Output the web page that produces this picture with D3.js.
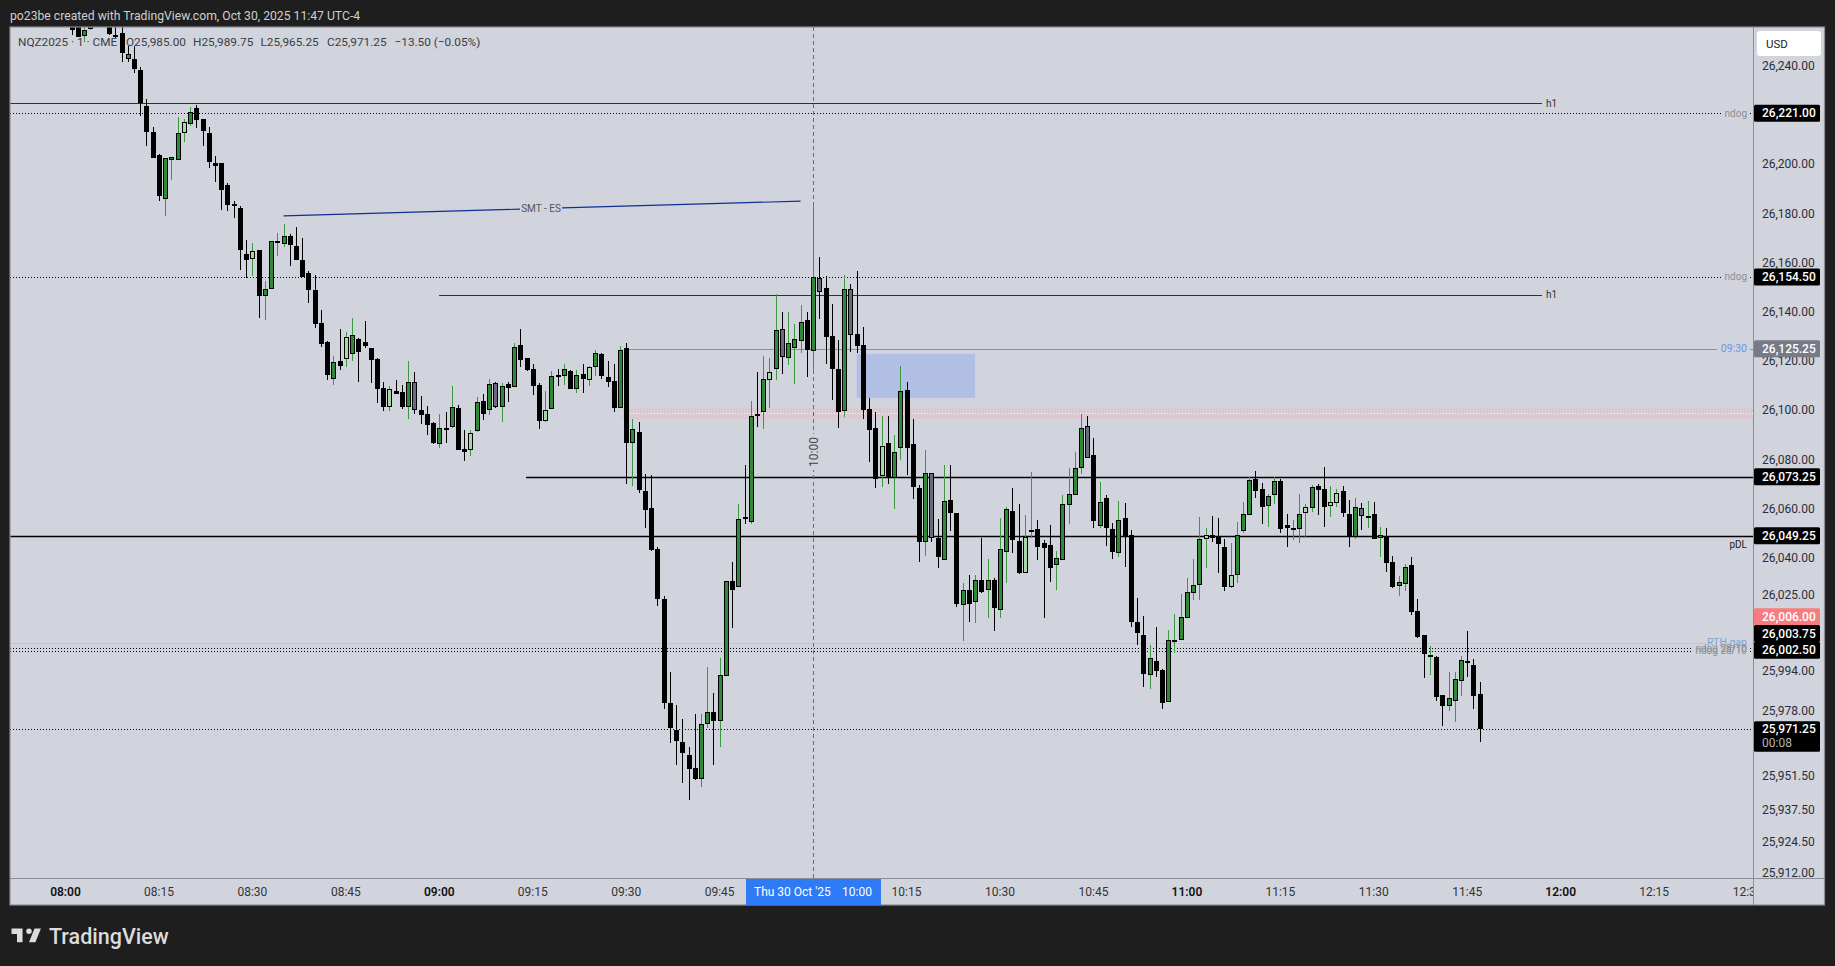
<!DOCTYPE html>
<html><head><meta charset="utf-8">
<style>html,body{margin:0;padding:0;background:#1e1e1e;overflow:hidden}svg{display:block}text{font-family:Roboto,sans-serif}</style>
<script src="https://cdn.jsdelivr.net/npm/d3@7"></script></head><body>
<svg id="c" width="1835" height="966"></svg>
<script>
// minute offset from 08:00 of the first candle
const firstMinute = 1;
const kinds = ("dduudddddg"+"ddddduuulu"+"dddddddddl"+"duuuuddddd"+"ddudludddd"+"dlddugdddu"+"duddludugu"+"duddddludu"+"dudludddud"+"uddddddddd"+
"duuduududu"+"duluguuudu"+"gdddugdddd"+"lduuddd"+"ugd"+"uddudududu"+"uddluddduu"+"uuugduddud"+"dddudduuuu"+"uuldddluuu"+"dduudduulu"+
"ddllddugud"+"udduuddd"+"ud"+"duuuddd").split("");
const bodyTops = [
26261,26259,26254.9,26258,26266,26264,26259,26252.75,26253.5,26245,
26243,26238.6,26223.8,26213.4,26204,26202.7,26203.1,26212.9,26217.3,26221.4,
26223.2,26218.7,26213,26200.7,26200.8,26191.9,26184.1,26182.5,26163.8,26164.9,
26165.4,26149.5,26169,26169.2,26171,26171.1,26167.1,26161.4,26156,26149.2,
26135.6,26128,26119.8,26120.3,26129.9,26130.8,26129.1,26127.9,26125.5,26121,
26109.2,26108.8,26108,26107.6,26111.7,26111.7,26100.3,26098.6,26095.1,26092.9,
26093,26101.5,26101.2,26084.4,26090.9,26103.5,26103.9,26110.9,26111.2,26110,
26110.9,26125.9,26126.7,26121.5,26116.9,26110.4,26100.3,26114.1,26114.6,26116.9,
26116.1,26114.5,26114.9,26117.7,26123.4,26123,26113.7,26112,26124.7,26125.4,
26092.5,26091.4,26067.5,26060.6,26043.9,26023.6,25981.2,25970.3,25965.4,25960.2,
25954.9,25972.7,25977.6,25977.6,25992.6,26030.8,26030.8,26056,26056.9,26097.8,
26098.8,26112.8,26115.7,26132.8,26133.2,26127.5,26129.2,26136.1,26136.9,26154.3,
26153.9,26149.9,26130.5,26116.9,26149.5,26149.5,26131.2,26126.7,26100.7,26092.95,
26085.6,26086.8,26083.2,26108,26108.4,26086.5,26068.7,26074.7,26074.7,26048.2,
26063.3,26063.7,26058.4,26027.1,26027.1,26031.2,26031.2,26031.2,26031.2,26043.8,
26060,26059.3,26047,26048.7,26051.6,26051.9,26046.2,26045.4,26040.1,26062.1,
26066.1,26076.7,26092.95,26093.8,26082.1,26062.9,26064.6,26051.9,26055.6,26056.5,
26049.5,26014.2,26008.8,25999.5,25998.2,25994.7,26006.8,26007.1,26016.1,26026.3,
26029.1,26047.8,26049.5,26049.5,26048.9,26044.7,26033.2,26049.5,26058,26071.9,
26072.2,26068.3,26065.3,26071.5,26071.5,26053.6,26052.4,26058,26060.8,26069,
26069.4,26068.2,26062.9,26066.5,26067.3,26058.1,26060.8,26060.4,26057.3,26058,
26049.5,26048.9,26038.6,26030.4,26036.5,26037.4,26018.7,26008.9,26000.8,26000,
25984.5,25983.2,25990.9,25998.7,25998.4,25996.7,25985];
const bodyBottoms = [
26254.9,26252.1,26252.5,26255.2,26260,26258,26253.25,26252.25,26245.6,26243,
26239.1,26225,26213.5,26203,26187.5,26186.3,26202.1,26201.9,26213.1,26216.8,
26218.4,26213.9,26201.3,26199.7,26189.9,26183.8,26183.4,26165.6,26161.5,26161.9,
26146.9,26146.9,26149.5,26168.8,26168,26167.6,26161.5,26154.6,26149.3,26135.5,
26127.4,26114.7,26113.1,26118.4,26121,26123.3,26124.1,26126.5,26120.8,26109,
26101.7,26101.7,26107,26101.7,26101.7,26100.5,26098.5,26094.4,26087.1,26086.7,
26092.75,26093.6,26084.3,26083.3,26084.3,26092,26098.9,26100.5,26101.7,26101.7,
26109.5,26109.9,26120.8,26116.8,26110.3,26096,26096,26100.7,26114.3,26114.1,
26109,26109,26113.1,26112.7,26118,26114.3,26111.9,26101.3,26101.3,26087.1,
26086.8,26068,26059.9,26043.5,26023.6,25981.1,25971.3,25965.8,25961,25954.4,
25950.4,25950.2,25972.95,25974.1,25974.1,25992.4,26027.4,26028.5,26056.6,26055,
26098.4,26099.4,26112.4,26116.9,26122,26121.6,26125.4,26128.6,26124.8,26124.5,
26148.5,26130.2,26117.2,26099.7,26100.1,26130.8,26126.5,26100.5,26092.4,26072.5,
26073.7,26072.9,26072.6,26084.8,26085.1,26069.2,26046.9,26046.9,26048.2,26040.8,
26039.5,26058.7,26021.7,26021.2,26021.7,26022.5,26026.5,26027.3,26020,26019.2,
26042.8,26047.7,26034.3,26034.3,26050.9,26044.8,26044.4,26036.3,26037.5,26039.5,
26061.9,26066,26076.9,26081,26055.3,26053.4,26052.5,26042.7,26042.4,26048.9,
26014.2,26009.75,25993.1,25992.8,25994.3,25981.3,25981.7,26006.7,26007,26016,
26026.1,26029.4,26048.1,26048.5,26045.9,26028.4,26028.4,26033.5,26051.3,26057.8,
26067.5,26061,26061.5,26066,26052,26052.5,26051.6,26052,26058.7,26060.7,
26067.9,26061.1,26061.5,26062.7,26058.7,26048.9,26048.9,26057.4,26057,26048.1,
26048.2,26038.3,26028.4,26029,26029.8,26018.3,26008.1,26001.2,26000.5,25983.7,
25980,25980.2,25982.2,25990.3,25997.7,25984.1,25970.75];
const highs = [
26265,26262,26262,26262,26268,26266,26262,26262,26258,26248.4,
26248.4,26239.8,26226.7,26215.3,26204.5,26202.7,26203.1,26219.4,26218.7,26223.4,
26224.4,26218.7,26215.3,26203.6,26200.8,26192.7,26185.2,26183.3,26169.5,26168.3,
26165.4,26152.8,26169,26172.2,26176,26171.9,26174.8,26170.3,26156.9,26155.2,
26141,26128.4,26122.3,26133.3,26132,26137.8,26129.7,26136.6,26125.5,26121.5,
26111.8,26110.2,26112.6,26110.6,26120.3,26115.8,26106.1,26102,26095.5,26098.8,
26099.6,26110.2,26102.4,26092.3,26092.3,26105.6,26106.9,26112.9,26111.8,26111.2,
26111.7,26127.6,26133.3,26121.5,26118.9,26111.2,26108.1,26116.2,26117,26119.1,
26116.7,26116.7,26119.1,26118.3,26124.8,26123.6,26120.3,26118.9,26126.3,26127.6,
26096.7,26095.6,26074.5,26074,26044.8,26024.6,25994,25980.5,25974.8,25963.4,
25976.9,25976.9,25996,25985.4,25999.4,26030.8,26038.5,26062,26078,26104.1,
26115.8,26122.3,26121.5,26147.4,26140.2,26140.2,26135.4,26143.1,26140.2,26184.5,
26162.6,26154.9,26143.4,26128.9,26155.3,26151.6,26156.9,26134.1,26105.2,26099.6,
26098,26098,26090.2,26118.3,26111.8,26096.7,26069.8,26084.1,26074.7,26056.1,
26078,26078,26058.4,26030,26033.2,26033.2,26048.2,26039.8,26032.1,26056.5,
26061,26068.7,26062.1,26057.7,26075.1,26055.7,26047.6,26053.6,26043,26065.7,
26076.8,26083.2,26098.8,26098,26089,26071.1,26065.8,26054.5,26063.4,26062.6,
26051.6,26024,26016.7,26004.9,26012.2,25995.1,26011,26017.5,26025.6,26032.1,
26039.8,26056.9,26052.4,26057.3,26056.5,26048,26046.3,26054.9,26063,26073.2,
26075.6,26070.7,26066.2,26073.3,26072.3,26058.1,26055.7,26066.2,26062.2,26069.9,
26070.3,26077.2,26069.5,26068.3,26069.5,26063.8,26064.6,26062.6,26063.4,26063,
26052.8,26052.4,26041,26032.9,26037.8,26040.6,26023.6,26008.9,26004.5,26000.4,
25984.5,25993.9,25993.9,26000.4,26010.6,25999.2,25989.75];
const lows = [
26252.8,26252,26250,26255,26258,26256,26252.8,26251.6,26242,26242,
26237.3,26220,26207.7,26203,26185.3,26179.4,26193.9,26201.9,26209.5,26215.8,
26215.2,26207.7,26198.8,26193.2,26181.7,26181.4,26178.6,26157.3,26154.2,26154.9,
26137.9,26137,26149.5,26163,26166.8,26158.9,26161.5,26154.6,26144,26133.8,
26126.1,26112.6,26110.7,26116.7,26117.9,26120.3,26111.8,26125.7,26111.4,26103.3,
26100,26100,26107,26100.8,26096.7,26098.8,26094.7,26090.2,26086.6,26084.9,
26087,26093.1,26084.3,26079.7,26081.7,26091.5,26096.3,26098.4,26101.2,26095.5,
26103.6,26109.9,26117.9,26116.2,26106.5,26092.7,26095.5,26100.7,26110.2,26110.6,
26109,26107.3,26107.3,26110.2,26114.3,26113,26109.7,26099.6,26101.3,26070.4,
26069.5,26066.7,26052.5,26043.1,26020.7,25978.9,25965.1,25956.2,25948.8,25941.7,
25950,25947.2,25971.3,25956.2,25963.6,25992.4,26011.9,26028.4,26054,26053.9,
26093.5,26092.8,26101.2,26112.7,26115,26118.7,26111,26123.6,26113.9,26115.6,
26137.4,26119.1,26104.5,26093.1,26097.5,26124,26123.6,26096.7,26079.3,26068.8,
26069.1,26070.3,26060.3,26080.1,26074,26064.3,26038.7,26041.2,26046.9,26036.3,
26039.5,26051.2,26020.4,26006.6,26014.2,26013.9,26026.1,26015.8,26010.6,26015.8,
26030.2,26042.4,26033.7,26034.3,26048.5,26039.4,26015.8,26030.5,26027.2,26039.5,
26054,26066,26074.4,26081,26052.4,26052.4,26045.1,26039.8,26040.6,26036.6,
26012.2,26004.9,25987.8,25987,25991.9,25978.9,25981.7,26001.6,26007,26016,
26023.2,26023.2,26036.2,26046.7,26034.1,26026.8,26028,26030,26050.4,26057.8,
26064.6,26054,26052.8,26062.2,26050.4,26044.7,26047.6,26046.3,26048.4,26058.9,
26057.7,26052.8,26056.9,26061,26056.9,26044.7,26048,26051.6,26052.4,26048.1,
26040.6,26034.5,26028,26024.8,26026.8,26017.1,26007.7,25991.5,25992.7,25982.1,
25971.9,25978,25973.6,25984.2,25991.9,25978.9,25965.25];

const priceTicks = [26240,26200,26180,26160,26140,26120,26100,26080,26060,26040,26025,25994,25978,25951.5,25937.5,25924.5,25912];
const timeTicks = ["08:00","08:15","08:30","08:45","09:00","09:15","09:30","09:45","10:00","10:15","10:30","10:45","11:00","11:15","11:30","11:45","12:00","12:15","12:30"];

const levelPrices = [26225.07,26221,26154.5,26147.3,26125.25,26073.25,26049.25,26005.75,26003.5,26002.5,25970.6];
const levelStarts = [null,null,null,60,90,73.9,null,null,null,null,null];
const levelEnds   = [237,null,null,237,null,null,null,null,null,null,null];
const levelKinds  = ["blue","dot","dot","blue","gray","solid","solid","pink","dot","dot","dot"];
const fvgBox = {m0:127, m1:146, p0:26123.2, p1:26105.3};
const gapBand = {m0:89.2, p0:26101.1, p1:26096.7, mid:26099};
const smtMinutes = [35,118];
const smtPrices = [26179.3,26185.3];
const crossMinute = 120;

const tagTexts = ["26,221.00","26,154.50","26,125.25","26,073.25","26,049.25","26,006.00","26,003.75","26,002.50"];
const tagPrices = [26221,26154.5,26125.25,26073.25,26049.25,26016.4,26009.5,26002.7];
const tagColors = ["#000","#000","#787b86","#000","#000","#f77c80","#000","#000"];

const svg = d3.select("#c");
const pane = {l:10,r:1753,t:27,b:878}, frameR=1824.5, frameB=905;
const x = d3.scaleLinear().domain([0,270]).range([65.5,1747.6]);
const y = d3.scaleLinear().domain([26221,25970.6]).range([113.3,729.3]);
const defs = svg.append("defs");
defs.append("clipPath").attr("id","pc").append("rect").attr("x",pane.l).attr("y",pane.t).attr("width",pane.r-pane.l).attr("height",pane.b-pane.t);
defs.append("clipPath").attr("id","ac").append("rect").attr("x",pane.r).attr("y",pane.t).attr("width",frameR-pane.r).attr("height",pane.b-pane.t);
defs.append("clipPath").attr("id","tc").append("rect").attr("x",pane.l).attr("y",pane.b).attr("width",pane.r-pane.l).attr("height",frameB-pane.b);

svg.append("text").attr("x",10).attr("y",19.5).attr("fill","#cfcfcf").style("font-size","12.2px").text("po23be created with TradingView.com, Oct 30, 2025 11:47 UTC-4");
svg.append("rect").attr("x",pane.l).attr("y",pane.t).attr("width",frameR-pane.l).attr("height",frameB-pane.t).attr("fill","#d1d4dc");

const g = svg.append("g").attr("clip-path","url(#pc)");
g.append("rect").attr("x",x(fvgBox.m0)).attr("width",x(fvgBox.m1)-x(fvgBox.m0)).attr("y",y(fvgBox.p0)).attr("height",y(fvgBox.p1)-y(fvgBox.p0)).attr("fill","#b0bfe3");
g.append("rect").attr("x",x(gapBand.m0)).attr("width",pane.r-x(gapBand.m0)).attr("y",y(gapBand.p0)).attr("height",y(gapBand.p1)-y(gapBand.p0)).attr("fill","#dbc9d2");
g.append("line").attr("x1",x(gapBand.m0)).attr("x2",pane.r).attr("y1",Math.round(y(gapBand.mid))+.5).attr("y2",Math.round(y(gapBand.mid))+.5).attr("stroke","#fff").attr("stroke-dasharray","1 2").attr("shape-rendering","crispEdges");

const levelStyle = {
  blue:{c:"#0f2f92",w:1},dot:{c:"#000",w:1,d:"1 2"},gray:{c:"#8d8f99",w:1},solid:{c:"#000",w:1.5},pink:{c:"#e7b7bd",w:1}
};
const labelGap = {dot:[1722,1750],gray:[1717,1750],pink:[1706,1750]};
levelPrices.forEach((p,i)=>{
  const k=levelKinds[i], s=levelStyle[k], yy=Math.round(y(p))+.5;
  const x0=levelStarts[i]==null?pane.l:Math.round(x(levelStarts[i]));
  const x1=levelEnds[i]==null?pane.r:Math.round(x(levelEnds[i]));
  let stops=[[x0,x1]];
  let gap=labelGap[k];
  if(k==="dot"&&(i===8||i===9)) gap=[1691,1750];
  if(i===10) gap=null;
  if(gap) stops=[[x0,gap[0]],[gap[1],x1]];
  stops.forEach(st=>g.append("line").attr("x1",st[0]).attr("x2",st[1]).attr("y1",yy).attr("y2",yy)
    .attr("stroke",s.c).attr("stroke-width",s.w).attr("stroke-dasharray",s.d||null).attr("shape-rendering",k==="solid"?null:"crispEdges"));
});
const smtX=[x(smtMinutes[0]),x(smtMinutes[1])], smtY=[y(smtPrices[0]),y(smtPrices[1])];
const smtAt=X=>smtY[0]+(smtY[1]-smtY[0])*(X-smtX[0])/(smtX[1]-smtX[0]);
[[smtX[0],520],[562,smtX[1]]].forEach(s=>g.append("line").attr("x1",s[0]).attr("x2",s[1]).attr("y1",smtAt(s[0])).attr("y2",smtAt(s[1])).attr("stroke","#0f2f92").attr("stroke-width",1.2));
const cx=Math.round(x(crossMinute))+.5;
g.append("line").attr("x1",cx).attr("x2",cx).attr("y1",pane.t).attr("y2",pane.b).attr("stroke","#2f74e0").attr("stroke-width",1).attr("stroke-dasharray","4 3").attr("shape-rendering","crispEdges");
g.append("rect").attr("x",cx-9).attr("y",434).attr("width",18).attr("height",36).attr("fill","#d1d4dc");

const fills={d:"#000",u:"#2e8a36",g:"#696c78",l:"#a7d8a9"};
const wicks={d:"#000",u:"#3a993f",g:"#000",l:"#3a993f"};
const cg=g.append("g");
bodyTops.forEach((t,i)=>{
  const m=firstMinute+i, kd=kinds[i], c=Math.round(x(m));
  cg.append("line").attr("x1",c+.5).attr("x2",c+.5).attr("y1",y(highs[i])).attr("y2",y(lows[i])).attr("stroke",wicks[kd]).attr("stroke-width",1).attr("shape-rendering","crispEdges");
  const y0=Math.round(y(t)), y1=Math.round(y(bodyBottoms[i]));
  const h=y1-y0;
  if(h<2){
    cg.append("rect").attr("x",c-2).attr("y",y0).attr("width",5).attr("height",Math.max(h,1)+1).attr("fill","#000").attr("shape-rendering","crispEdges");
  } else {
    cg.append("rect").attr("x",c-1.5).attr("y",y0+.5).attr("width",4).attr("height",h-1+.0001).attr("fill",fills[kd]).attr("stroke","#000").attr("stroke-width",1).attr("shape-rendering","crispEdges");
  }
});

const lab=(txt,X,Y,col,size,anchor)=>svg.append("text").attr("x",X).attr("y",Y).attr("fill",col).attr("text-anchor",anchor||"start").attr("dominant-baseline","central").style("font-size",(size||10)+"px").text(txt);
lab("h1",x(237)+4,y(levelPrices[0]),"#333",10);
lab("h1",x(237)+4,y(levelPrices[3]),"#333",10);
lab("SMT - ES",541,smtAt(541)-.5,"#555",10,"middle");
lab("ndog",1747,y(levelPrices[1]),"#8c8f98",10,"end");
lab("ndog",1747,y(levelPrices[2]),"#8c8f98",10,"end");
lab("09:30",1747,y(levelPrices[4]),"#6f92ea",10.5,"end");
lab("pDL",1747,y(levelPrices[6])+9,"#222",10,"end");
lab("RTH gap",1747,y(levelPrices[7]),"#7fa5d3",10.5,"end");
lab("ndog 28/10",1747,y(levelPrices[8]),"#8c8f98",10,"end");
lab("ndog 28/10",1747,y(levelPrices[9]),"#8c8f98",10,"end");
svg.append("text").attr("transform",`translate(${cx+.5},452) rotate(-90)`).attr("text-anchor","middle").attr("dominant-baseline","central").attr("fill","#444").style("font-size","12px").text("10:00");

const legendX=[18,126,193,260.5,327,394.5];
["NQZ2025 · 1 · CME","O25,985.00","H25,989.75","L25,965.25","C25,971.25","−13.50 (−0.05%)"].forEach((t,i)=>
  lab(t,legendX[i],41.5,"#3a3d45",11.8));

svg.append("line").attr("x1",pane.r+.5).attr("x2",pane.r+.5).attr("y1",pane.t).attr("y2",frameB).attr("stroke","#8a8d95");
svg.append("line").attr("x1",pane.l).attr("x2",frameR).attr("y1",pane.b+.5).attr("y2",pane.b+.5).attr("stroke","#8a8d95");
svg.append("rect").attr("x",pane.l).attr("y",pane.t).attr("width",frameR-pane.l).attr("height",frameB-pane.t).attr("fill","none").attr("stroke","#8a8d95").attr("stroke-width",1.2);

const ag=svg.append("g").attr("clip-path","url(#ac)");
const fmt=d3.format(",.2f");
ag.selectAll("text.t").data(priceTicks).join("text").attr("class","t").attr("x",1762).attr("y",d=>y(d)-.5).attr("dominant-baseline","central").attr("fill","#2a2e39").style("font-size","12px").text(d=>fmt(d));
const tags=svg.append("g");
tagTexts.forEach((t,i)=>{
  const yy=y(tagPrices[i]);
  tags.append("rect").attr("x",1754).attr("y",yy-8.5).attr("width",66).attr("height",17).attr("rx",1.5).attr("fill",tagColors[i]);
  tags.append("text").attr("x",1762).attr("y",yy).attr("dominant-baseline","central").attr("fill","#fff").style("font-size","12px").style("font-weight",500).text(t);
});
const lastY=y(levelPrices[10]);
tags.append("rect").attr("x",1754).attr("y",lastY-8).attr("width",66).attr("height",30.5).attr("rx",1.5).attr("fill","#000");
tags.append("text").attr("x",1762).attr("y",lastY).attr("dominant-baseline","central").attr("fill","#fff").style("font-size","12px").style("font-weight",500).text("25,971.25");
tags.append("text").attr("x",1762).attr("y",lastY+13.5).attr("dominant-baseline","central").attr("fill","#b5b5b5").style("font-size","12px").text("00:08");
svg.append("rect").attr("x",1757).attr("y",31).attr("width",64).attr("height",25).attr("rx",3).attr("fill","#fff");
lab("USD",1766,44,"#222",11.5);

const tg=svg.append("g").attr("clip-path","url(#tc)");
tg.selectAll("text").data(timeTicks.map((d,i)=>[d,i]).filter(d=>d[0]!=="10:00")).join("text")
 .attr("x",d=>x(d[1]*15)).attr("y",892).attr("text-anchor","middle").attr("dominant-baseline","central")
 .attr("fill",d=>d[0].endsWith(":00")?"#111":"#333").style("font-size","12px").style("font-weight",d=>d[0].endsWith(":00")?600:400).text(d=>d[0]);
svg.append("rect").attr("x",746).attr("y",pane.b+1).attr("width",135).attr("height",26).attr("fill","#2f7bf5");
lab("Thu 30 Oct '25",754,892,"#fff",12);
lab("10:00",842,892,"#fff",12);

svg.append("path").attr("transform","translate(9.66,923) scale(.92)").attr("fill","#dcdcdc")
 .attr("d","M14 6H2v6h6v9h6V6zm14 15h-7l6-15h7l-6 15zm-7-9a3 3 0 1 0 0-6 3 3 0 0 0 0 6z");
svg.append("text").attr("x",49).attr("y",936).attr("dominant-baseline","central").attr("fill","#dcdcdc").style("font-size","21.5px").style("font-weight",500).text("TradingView");
</script>
</body></html>
